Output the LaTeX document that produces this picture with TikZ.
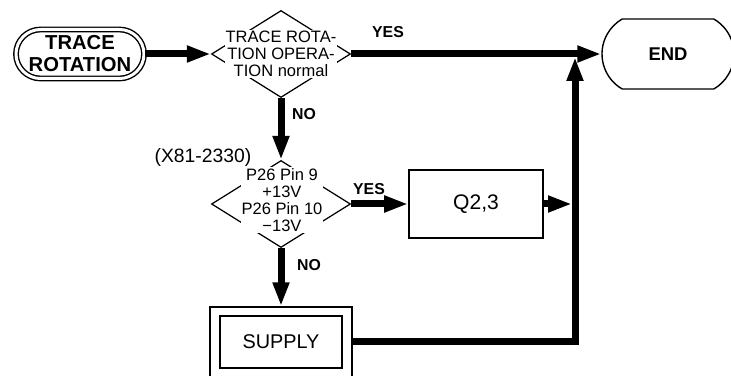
\documentclass[tikz,border=0pt]{standalone}
\usepackage{fontspec}
\setmainfont{Liberation Sans}
\usetikzlibrary{arrows.meta, shapes.geometric, shapes.misc}
\tikzset{
  every picture/.style={line width=0.8pt},
  flow/.style={-{Triangle[length=4.8mm, width=3.1mm]}, line width=1.4mm},
  yesno/.style={font=\fontsize{9}{10}\selectfont\bfseries},
  reflabel/.style={font=\fontsize{11}{12}\selectfont},
}
\begin{document}
\begin{tikzpicture}[x=0.2mm, y=-0.2mm,
    term/.style={draw, rounded rectangle, inner sep=0pt, align=center},
    beginbox/.style={term, double, double distance=0.6mm, minimum width=25.6mm, minimum height=9.8mm, font=\fontsize{11.5}{12.5}\selectfont\bfseries},
    endbox/.style={term, rounded rectangle arc length=120, minimum width=26.4mm, minimum height=14mm, font=\fontsize{10.5}{12}\selectfont\bfseries},
    decision/.style={draw, diamond, inner sep=0pt, line width=0.7pt, minimum width=27.8mm, minimum height=17.4mm},
    dtext/.style={fill=white, inner sep=0.5pt, align=center, font=\fontsize{9.4}{9.7}\selectfont},
    procbox/.style={draw, line width=0.9pt, minimum width=26.8mm, minimum height=13.6mm, font=\fontsize{12}{14}\selectfont},
    supout/.style={draw, minimum width=28.4mm, minimum height=14mm},
    supin/.style={draw, minimum width=24.4mm, minimum height=10.4mm, font=\fontsize{11.3}{13}\selectfont},
  ]
  \useasboundingbox (0,0) rectangle (731,376);

  % top row
  \node[beginbox] (begin) at (80,54) {TRACE\\ROTATION};
  \node[decision] (d1) at (281,54) {};
  \node[dtext] (d1t) at (281,54) {TRACE ROTA-\\TION OPERA-\\TION normal};
  \node[endbox] (done) at (668,54) {END};
  \node[yesno] (yes1) at (388,32) {YES};
  \node[yesno] (no1) at (304,114) {NO};

  % pin check
  \node[reflabel] (ref) at (203,157) {(X81-2330)};
  \node[decision] (d2) at (281,204) {};
  \node[dtext] (d2t) at (282,200) {P26 Pin 9\\+13V\\P26 Pin 10\\−13V};
  \node[procbox] (q23) at (476,204) {Q2,3};
  \node[yesno] (yes2) at (369,189) {YES};
  \node[yesno] (no2) at (309,265) {NO};

  % supply
  \node[supout] (supo) at (281,342) {};
  \node[supin] (supi) at (281,342) {SUPPLY};

  \coordinate (qjoin) at (572,204);
  \coordinate (mjoin) at (575,57);

  \draw[flow] (begin.east) -- (d1.west);
  \draw[flow] (d1.east) -- (done.west);
  \draw[flow] (d1.south) -- (d2.north);
  \draw[flow] (d2.east) -- (q23.west);
  \draw[flow] (d2.south) -- (supo.north);
  \draw[flow] (q23.east) -- (qjoin);
  \draw[flow] (supo.east) -| (mjoin);
\end{tikzpicture}
\end{document}
